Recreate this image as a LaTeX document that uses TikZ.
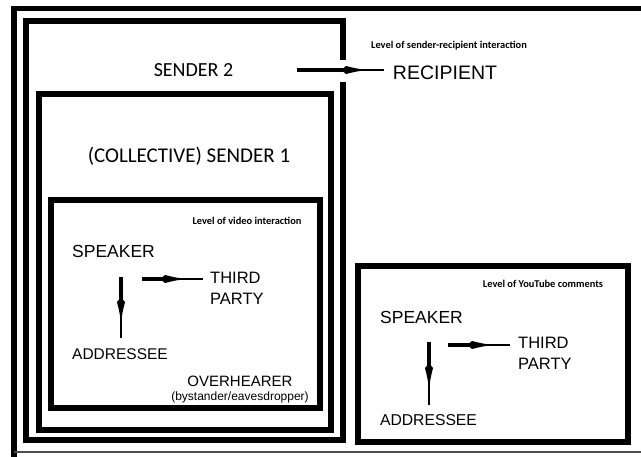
\documentclass[tikz,border=0pt]{standalone}
\usepackage{fontspec}
\setmainfont{Liberation Sans}
\newfontfamily\carlito{Carlito}
\usetikzlibrary{decorations.markings}
\begin{document}
\begin{tikzpicture}[x=1pt,y=-1pt,
  frame/.style={line width=6pt},
  shaft/.style={line width=3.8pt},
  tail/.style={line width=1.5pt,postaction={decorate},
    decoration={markings,mark=at position 0 with {
      \fill (-2.5,1.9) -- (0,4) .. controls (5,2.8) and (10,1.4) .. (16,0.75)
            -- (16,-0.75) .. controls (10,-1.4) and (5,-2.8) .. (0,-4) -- (-2.5,-1.9) -- cycle;}}},
  lbl/.style={inner sep=0pt},
  tiny/.style={inner sep=0pt,font=\carlito\bfseries\fontsize{10.4}{12}\selectfont},
  sendr/.style={inner sep=0pt,font=\carlito\fontsize{20}{24}\selectfont}]
\useasboundingbox (0,0) rectangle (641,457);
\fill[white] (0,0) rectangle (641,457);
% outer frame
\draw[line width=5.5pt] (641,8.5) -- (14,8.5) -- (14,457);
\draw[line width=1.2pt,black!70] (14,452) -- (641,452);
% sender 2 box with gap
\draw[frame] (343,60) -- (343,21.5) -- (26,21.5) -- (26,440.5) -- (343,440.5) -- (343,82);
% sender 1 box
\draw[frame] (39,94) rectangle (331,430);
% video box
\draw[frame] (51,200.5) rectangle (320,408.5);
% youtube box
\draw[frame] (357.5,266) rectangle (628,442);

% top level
\node[tiny] (lsr) at (449,46) {Level of sender-recipient interaction};
\node[sendr] (s2) at (193.5,70) {SENDER 2};
\node[lbl,font=\fontsize{19.5}{22}\selectfont] (rec) at (445,72.5) {RECIPIENT};
\coordinate (s2a) at (297,70);
\coordinate (s2m) at (346,70);
\coordinate (s2b) at (384,70);
\draw[shaft] (s2a) -- (s2m);
\draw[tail] (s2m) -- (s2b);

\node[sendr,font=\carlito\fontsize{21}{24}\selectfont] (s1) at (189,156) {(COLLECTIVE) SENDER 1};

% video interaction
\node[tiny] (lvi) at (247,221) {Level of video interaction};
\node[lbl,font=\fontsize{17.5}{20}\selectfont] (vsp) at (113.5,251.5) {SPEAKER};
\node[lbl,anchor=west,align=left,font=\fontsize{16.5}{20.5}\selectfont] (vtp) at (210,288.5) {THIRD\\PARTY};
\node[lbl,font=\fontsize{15.5}{18}\selectfont] (vad) at (120,354.5) {ADDRESSEE};
\node[lbl,font=\fontsize{15}{18}\selectfont] (voh) at (240,381) {OVERHEARER};
\node[lbl,font=\fontsize{12}{14}\selectfont] (vby) at (240,397) {(bystander/eavesdropper)};
\coordinate (vda) at (121,277);
\coordinate (vdm) at (121,302);
\coordinate (vdb) at (121,338);
\draw[shaft] (vda) -- (vdm);
\draw[tail] (vdm) -- (vdb);
\coordinate (vra) at (142,279);
\coordinate (vrm) at (165,279);
\coordinate (vrb) at (203,279);
\draw[shaft] (vra) -- (vrm);
\draw[tail] (vrm) -- (vrb);

% youtube comments
\node[tiny] (lyt) at (543,284) {Level of YouTube comments};
\node[lbl,font=\fontsize{17.5}{20}\selectfont] (ysp) at (421.5,317) {SPEAKER};
\node[lbl,anchor=west,align=left,font=\fontsize{16.5}{20.5}\selectfont] (ytp) at (518,353.5) {THIRD\\PARTY};
\node[lbl,font=\fontsize{15.7}{18}\selectfont] (yad) at (428.5,420) {ADDRESSEE};
\coordinate (yda) at (429,342);
\coordinate (ydm) at (429,368);
\coordinate (ydb) at (429,405);
\draw[shaft] (yda) -- (ydm);
\draw[tail] (ydm) -- (ydb);
\coordinate (yra) at (448,345);
\coordinate (yrm) at (472,345);
\coordinate (yrb) at (510,345);
\draw[shaft] (yra) -- (yrm);
\draw[tail] (yrm) -- (yrb);
\end{tikzpicture}
\end{document}
